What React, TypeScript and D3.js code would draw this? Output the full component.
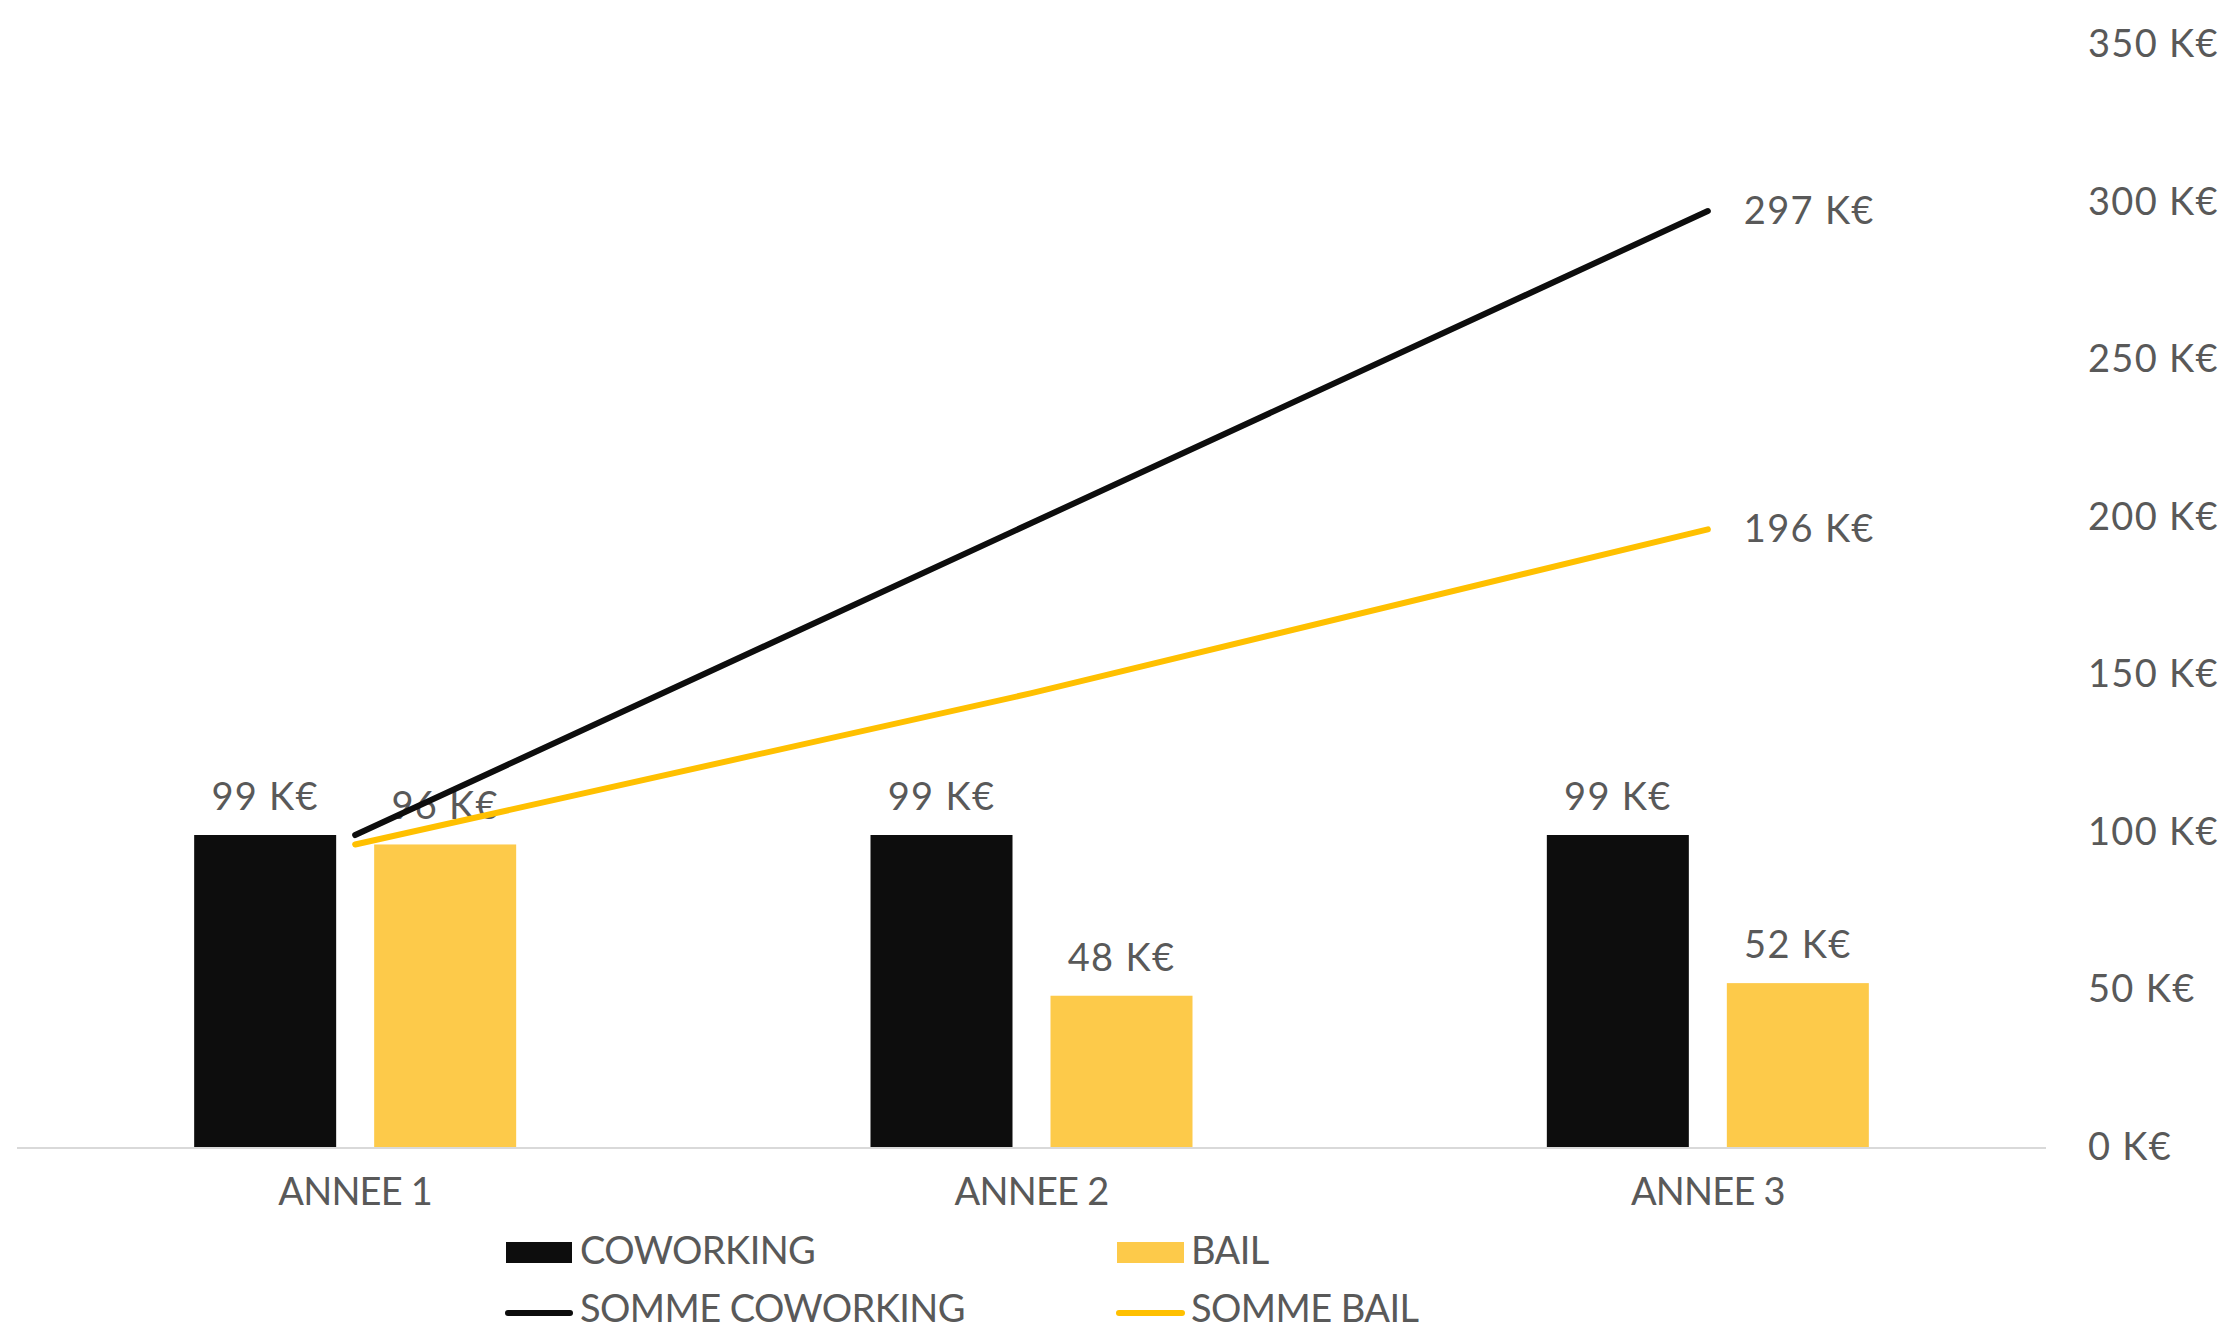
import React from "react";
import * as d3 from "d3";

const categories = ["ANNEE 1", "ANNEE 2", "ANNEE 3"];
const coworking = [99, 99, 99];
const bail = [96, 48, 52];
const sommeCoworking = [99, 198, 297];
const sommeBail = [96, 144, 196];
const yTicks = [0, 50, 100, 150, 200, 250, 300, 350];
const barSeries = ["COWORKING", "BAIL"];

const W = 2228;
const H = 1331;
const TEXT = "#595959";
const BLACK = "#0d0d0d";
const BAR_YELLOW = "#fdca4a";
const LINE_YELLOW = "#ffc000";
const FONT = "Lato, 'Open Sans', sans-serif";
const FS = 38;
const NUM_LS = 1.3;

const fmt = (v: number) => `${v} K€`;

export default function App() {
  const x = d3.scaleBand<string>().domain(categories).range([17, 2046]).padding(0);
  const y = d3.scaleLinear().domain([0, 350]).range([1147, 44]);
  const inner = d3
    .scaleBand<string>()
    .domain(barSeries)
    .range([-161, 161])
    .paddingInner(38 / 180);
  const cx = (c: string) => (x(c) as number) + x.bandwidth() / 2;

  const line = d3
    .line<number>()
    .x((_, i) => cx(categories[i]))
    .y((d) => y(d));

  const barData = [coworking, bail];
  const barColors = [BLACK, BAR_YELLOW];

  return (
    <svg
      width={W}
      height={H}
      style={{ position: "fixed", left: 0, top: 0, background: "#fff" }}
      fontFamily={FONT}
    >
      <rect x={0} y={0} width={W} height={H} fill="#fff" />
      {/* y axis labels */}
      {yTicks.map((t) => (
        <text key={t} x={2088} y={y(t) + 13} fontSize={FS} fill={TEXT} letterSpacing={NUM_LS}>
          {fmt(t)}
        </text>
      ))}
      {/* bars */}
      {barSeries.map((s, si) =>
        categories.map((c, ci) => {
          const v = barData[si][ci];
          const bx = cx(c) + (inner(s) as number);
          return (
            <rect
              key={s + c}
              x={bx}
              y={y(v)}
              width={inner.bandwidth()}
              height={y(0) - y(v)}
              fill={barColors[si]}
            />
          );
        })
      )}
      {/* axis line */}
      <line x1={17} x2={2046} y1={y(0) + 1} y2={y(0) + 1} stroke="#d9d9d9" strokeWidth={2} />
      {/* category labels */}
      {categories.map((c) => (
        <text key={c} x={cx(c)} y={1205} fontSize={FS} fill={TEXT} textAnchor="middle" letterSpacing={-0.8}>
          {c}
        </text>
      ))}
      {/* bar data labels */}
      {barSeries.map((s, si) =>
        categories.map((c, ci) => {
          const v = barData[si][ci];
          const bx = cx(c) + (inner(s) as number) + inner.bandwidth() / 2;
          return (
            <text key={"l" + s + c} x={bx} y={y(v) - 25} fontSize={FS} fill={TEXT} textAnchor="middle" letterSpacing={NUM_LS}>
              {fmt(v)}
            </text>
          );
        })
      )}
      {/* lines */}
      <path d={line(sommeBail) || ""} fill="none" stroke={LINE_YELLOW} strokeWidth={6} strokeLinecap="round" />
      <path d={line(sommeCoworking) || ""} fill="none" stroke={BLACK} strokeWidth={6} strokeLinecap="round" />
      {/* line end labels */}
      <text x={cx(categories[2]) + 36} y={y(sommeCoworking[2]) + 13} fontSize={FS} fill={TEXT} letterSpacing={NUM_LS}>
        {fmt(sommeCoworking[2])}
      </text>
      <text x={cx(categories[2]) + 36} y={y(sommeBail[2]) + 13} fontSize={FS} fill={TEXT} letterSpacing={NUM_LS}>
        {fmt(sommeBail[2])}
      </text>
      {/* legend */}
      <rect x={506} y={1242} width={66} height={21} fill={BLACK} />
      <text x={580} y={1264} fontSize={FS} fill={TEXT} letterSpacing={-0.6}>COWORKING</text>
      <rect x={1117} y={1242} width={67} height={21} fill={BAR_YELLOW} />
      <text x={1191} y={1264} fontSize={FS} fill={TEXT} letterSpacing={-0.6}>BAIL</text>
      <line x1={508} x2={570} y1={1313} y2={1313} stroke={BLACK} strokeWidth={6} strokeLinecap="round" />
      <text x={580} y={1322} fontSize={FS} fill={TEXT} letterSpacing={-0.6}>SOMME COWORKING</text>
      <line x1={1119} x2={1182} y1={1313} y2={1313} stroke={LINE_YELLOW} strokeWidth={6} strokeLinecap="round" />
      <text x={1191} y={1322} fontSize={FS} fill={TEXT} letterSpacing={-0.6}>SOMME BAIL</text>
    </svg>
  );
}
